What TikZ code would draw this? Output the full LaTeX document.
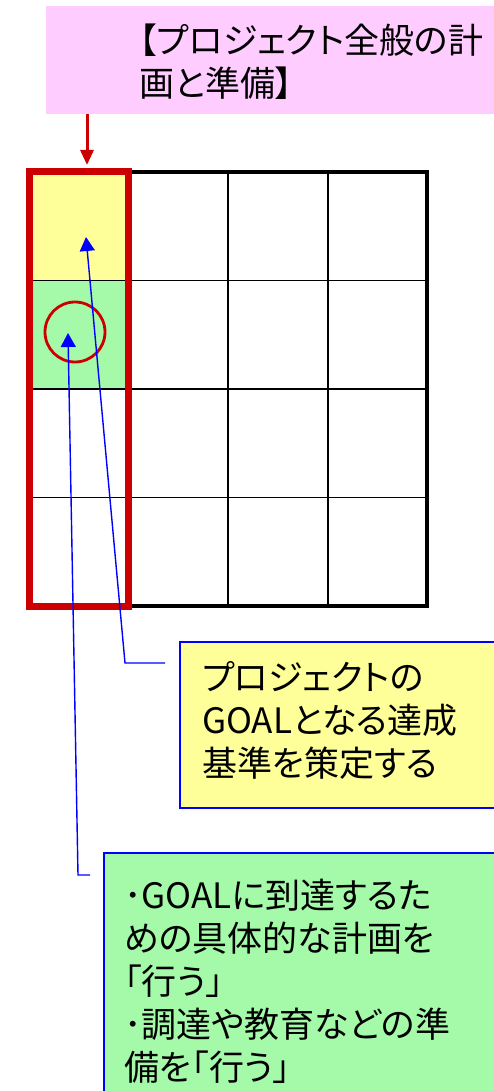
\documentclass[tikz,border=0pt]{standalone}
\usepackage{fontspec}
\usepackage[rgb]{xcolor}
\usepackage{tikz}
\usetikzlibrary{arrows.meta}
\newfontfamily\jp[RawFeature=+palt]{Noto Sans CJK JP}
\definecolor{pinkfill}{RGB}{255,204,255}
\definecolor{yellowfill}{RGB}{255,255,153}
\definecolor{greenfill}{RGB}{164,250,168}
\definecolor{darkred}{RGB}{204,0,0}

\begin{document}
\begin{tikzpicture}[x=1pt, y=-1pt,
  txt/.style={anchor=north west, inner sep=0pt, align=left, font=\jp\fontsize{35}{43}\selectfont},
  box/.style={anchor=north west, inner sep=0pt, draw=blue, line width=1.5pt},
  bluearrow/.style={blue, line width=1.4pt, -{Triangle[width=15pt,length=14pt]}},
  redarrow/.style={darkred, line width=3pt, -{Triangle[width=13pt,length=15pt]}}]

\useasboundingbox (0,0) rectangle (494,1091);
\clip (0,0) rectangle (494,1091);

% boxes
\path
(45,5) node[box, draw=none, fill=pinkfill, minimum width=460pt, minimum height=108pt] (plan) {}
(179,641) node[box, fill=yellowfill, minimum width=330pt, minimum height=166pt] (goal) {}
(103,852) node[box, fill=greenfill, minimum width=400pt, minimum height=260pt] (prep) {};

\path
(139,24) node[txt] (plantxt) {【プロジェクト全般の計\\画と準備】}
(202,661) node[txt] (goaltxt) {プロジェクトの\\GOALとなる達成\\基準を策定する}
(124,879) node[txt] (preptxt) {･GOALに到達するた\\めの具体的な計画を\\「行う」\\･調達や教育などの準\\備を「行う」};

% grid
\fill[yellowfill] (29,172) rectangle (128.6,280.5);
\fill[greenfill] (29,280.5) rectangle (128.6,389);
\foreach \x in {128.6,228.2,327.8}
  \draw[line width=1.6pt] (\x,172) -- (\x,606);
\foreach \y in {280.5,389,497.5}
  \draw[line width=1.6pt] (29,\y) -- (427.4,\y);
\draw[line width=4pt] (29,172) rectangle (427.4,606);
\draw[darkred, line width=7pt] (29,172) rectangle (128.6,606);

\node[circle, draw=darkred, line width=2.8pt, minimum size=60pt, inner sep=0pt] (mark) at (75,332) {};

% connectors
\coordinate (coltop) at (87,165);
\coordinate (goaltip) at (86,237);
\coordinate (goalbend) at (125,663);
\coordinate (goalend) at (165,663);
\coordinate (preptip) at (68,333);
\coordinate (prepbend) at (78,875);
\coordinate (prepend) at (90,875);

\draw[redarrow] (plan.south west -| coltop) -- (coltop);
\draw[bluearrow] (goalend) -- (goalbend) -- (goaltip);
\draw[bluearrow] (prepend) -- (prepbend) -- (preptip);

\end{tikzpicture}
\end{document}
